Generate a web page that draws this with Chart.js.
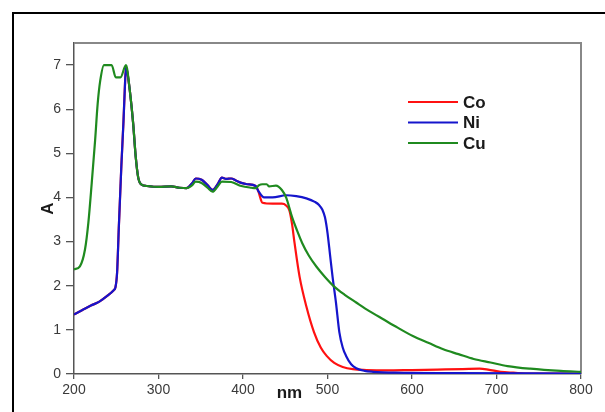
<!DOCTYPE html>
<html>
<head>
<meta charset="utf-8">
<script src="https://cdn.jsdelivr.net/npm/chart.js@4.4.1/dist/chart.umd.min.js"></script>
<style>
  body { margin: 0; background: #fff; }
  #wrap { position: relative; width: 605px; height: 412px; overflow: hidden; }
  #frame { position: absolute; left: 12px; top: 12px; width: 700px; height: 500px;
           border-left: 2px solid #000; border-top: 2px solid #000; }
  #chart { position: absolute; left: 0; top: 0; }
</style>
</head>
<body>
<div id="wrap">
  <div id="frame"></div>
  <canvas id="chart" width="605" height="412"></canvas>
</div>
<script>
// Sample Values
let seriesNames = ['Co', 'Ni', 'Cu'];
let xTicks = [200, 300, 400, 500, 600, 700, 800];
let yTicks = [0, 1, 2, 3, 4, 5, 6, 7];

let coNm = [200, 210, 220, 230, 240, 247, 249, 251, 253, 256, 258.5, 260, 261.5, 263, 266, 270, 273, 276, 280, 286, 300, 315, 325, 333, 340, 344, 351, 358, 364, 370, 375, 380, 386, 392, 398, 405, 415, 418, 423, 435, 446, 451, 455, 458, 461, 467, 475, 484, 492, 499, 508, 518, 530, 546, 570, 600, 630, 660, 680, 690, 705, 720, 740, 800];
let coA  = [1.35, 1.45, 1.55, 1.64, 1.78, 1.9, 1.96, 2.3, 3.3, 4.7, 5.7, 6.4, 6.95, 6.85, 6.43, 5.68, 4.93, 4.45, 4.29, 4.26, 4.24, 4.25, 4.22, 4.21, 4.33, 4.43, 4.4, 4.28, 4.17, 4.3, 4.45, 4.42, 4.43, 4.38, 4.33, 4.3, 4.26, 4.15, 3.88, 3.86, 3.86, 3.82, 3.7, 3.4, 2.97, 2.2, 1.53, 0.95, 0.6, 0.41, 0.25, 0.16, 0.11, 0.09, 0.08, 0.09, 0.1, 0.11, 0.12, 0.1, 0.05, 0.03, 0.01, 0.01];

let niNm = [200, 210, 220, 230, 240, 247, 249, 251, 253, 256, 258.5, 260, 261.5, 263, 266, 270, 273, 276, 280, 286, 300, 315, 325, 333, 340, 344, 351, 358, 364, 370, 375, 380, 386, 392, 398, 405, 415, 418, 425, 435, 451, 463, 475, 485, 490, 494, 497, 500, 503, 506, 510, 514, 518, 522, 528, 534, 544, 554, 580, 650, 800];
let niA  = [1.35, 1.45, 1.55, 1.64, 1.78, 1.9, 1.96, 2.3, 3.3, 4.7, 5.7, 6.4, 6.95, 6.85, 6.43, 5.68, 4.93, 4.45, 4.29, 4.26, 4.24, 4.25, 4.22, 4.21, 4.33, 4.43, 4.4, 4.28, 4.17, 4.3, 4.45, 4.42, 4.43, 4.38, 4.33, 4.3, 4.26, 4.15, 4.0, 4.0, 4.05, 4.03, 3.98, 3.9, 3.83, 3.72, 3.55, 3.2, 2.7, 2.2, 1.62, 0.95, 0.6, 0.41, 0.22, 0.13, 0.07, 0.05, 0.03, 0.02, 0.01];

let cuNm = [200, 207, 213, 217, 221, 225, 228, 231, 235.5, 244.5, 249.5, 255, 261.5, 266, 270, 273, 276, 280, 286, 300, 315, 325, 333, 340, 344, 351, 358, 364, 370, 375, 386, 398, 410, 415, 419, 423, 428, 431, 439, 446, 451, 458, 464, 470, 478, 487, 497, 508, 520, 534, 550, 566, 583, 601, 620, 637, 655, 673, 693, 713, 740, 776, 800];
let cuA  = [2.37, 2.44, 2.82, 3.43, 4.33, 5.3, 6.12, 6.64, 7.0, 7.0, 6.72, 6.72, 7.0, 6.43, 5.68, 4.93, 4.45, 4.29, 4.26, 4.24, 4.25, 4.22, 4.21, 4.28, 4.36, 4.33, 4.22, 4.13, 4.25, 4.36, 4.35, 4.26, 4.22, 4.21, 4.28, 4.3, 4.3, 4.25, 4.27, 4.17, 4.0, 3.56, 3.25, 2.97, 2.68, 2.43, 2.2, 1.98, 1.8, 1.62, 1.42, 1.24, 1.05, 0.86, 0.7, 0.56, 0.45, 0.34, 0.26, 0.18, 0.12, 0.07, 0.05];

let colors = ['#ff1111', '#1515cc', '#1f8a1f'];

function pts(xs, ys) {
    return xs.map((x, i) => ({ x: x, y: ys[i] }));
}

// Frame on top and right, plus the "nm" label and the legend
const extras = {
    id: 'extras',
    beforeDatasetsDraw(chart) {
        const { ctx, chartArea: a } = chart;
        ctx.save();
        ctx.strokeStyle = '#888';
        ctx.lineWidth = 2;
        ctx.beginPath();
        ctx.moveTo(a.left, a.top);
        ctx.lineTo(a.right, a.top);
        ctx.lineTo(a.right, a.bottom);
        ctx.stroke();
        ctx.restore();
    },
    afterDraw(chart) {
        const ctx = chart.ctx;
        ctx.save();
        ctx.fillStyle = '#1a1a1a';
        ctx.font = 'bold 17px "Liberation Sans", Arial, sans-serif';
        ctx.textAlign = 'center';
        ctx.textBaseline = 'middle';
        ctx.fillText('nm', chart.scales.x.getPixelForValue(455), 393);

        ctx.textAlign = 'left';
        chart.data.datasets.forEach((ds, i) => {
            const y = 102 + i * 20.5;
            ctx.strokeStyle = ds.borderColor;
            ctx.lineWidth = 2;
            ctx.beginPath();
            ctx.moveTo(408, y);
            ctx.lineTo(458, y);
            ctx.stroke();
            ctx.fillText(ds.label, 463, y + 1);
        });
        ctx.restore();
    }
};

const ctx = document.getElementById('chart');

// lower order is drawn on top: Cu over Ni over Co
new Chart(ctx, {
    type: 'line',
    data: {
        datasets: [
            { label: seriesNames[0], data: pts(coNm, coA), borderColor: colors[0], order: 3 },
            { label: seriesNames[1], data: pts(niNm, niA), borderColor: colors[1], order: 2 },
            { label: seriesNames[2], data: pts(cuNm, cuA), borderColor: colors[2], order: 1 }
        ]
    },
    options: {
        responsive: false,
        animation: false,
        devicePixelRatio: 1,
        layout: { padding: { left: 0, top: 43, right: 24, bottom: 0 } },
        elements: {
            point: { radius: 0 },
            line: { borderWidth: 2.2, cubicInterpolationMode: 'monotone', fill: false }
        },
        plugins: {
            legend: { display: false },
            tooltip: { enabled: false }
        },
        scales: {
            x: {
                type: 'linear',
                min: 200,
                max: 800,
                afterBuildTicks: s => { s.ticks = xTicks.map(v => ({ value: v })); },
                afterFit: s => { s.height = 38; },
                ticks: {
                    color: '#3a3a3a',
                    font: { family: '"Liberation Sans", Arial, sans-serif', size: 14 },
                    padding: 3,
                    maxRotation: 0
                },
                grid: { drawOnChartArea: false, drawTicks: true, tickLength: 5, color: '#555', lineWidth: 1.3 },
                border: { color: '#555', width: 1.5 }
            },
            y: {
                min: 0,
                max: 7.5,
                afterBuildTicks: s => { s.ticks = yTicks.map(v => ({ value: v })); },
                afterFit: s => { s.width = 74; },
                ticks: {
                    color: '#3a3a3a',
                    font: { family: '"Liberation Sans", Arial, sans-serif', size: 14 },
                    padding: 5
                },
                grid: { drawOnChartArea: false, drawTicks: true, tickLength: 8, color: '#555', lineWidth: 1.3 },
                border: { color: '#555', width: 1.5 },
                title: {
                    display: true,
                    text: 'A',
                    color: '#1a1a1a',
                    font: { family: '"Liberation Sans", Arial, sans-serif', size: 17, weight: 'bold' },
                    padding: { top: 38, bottom: 0 }
                }
            }
        }
    },
    plugins: [extras]
});
</script>
</body>
</html>
